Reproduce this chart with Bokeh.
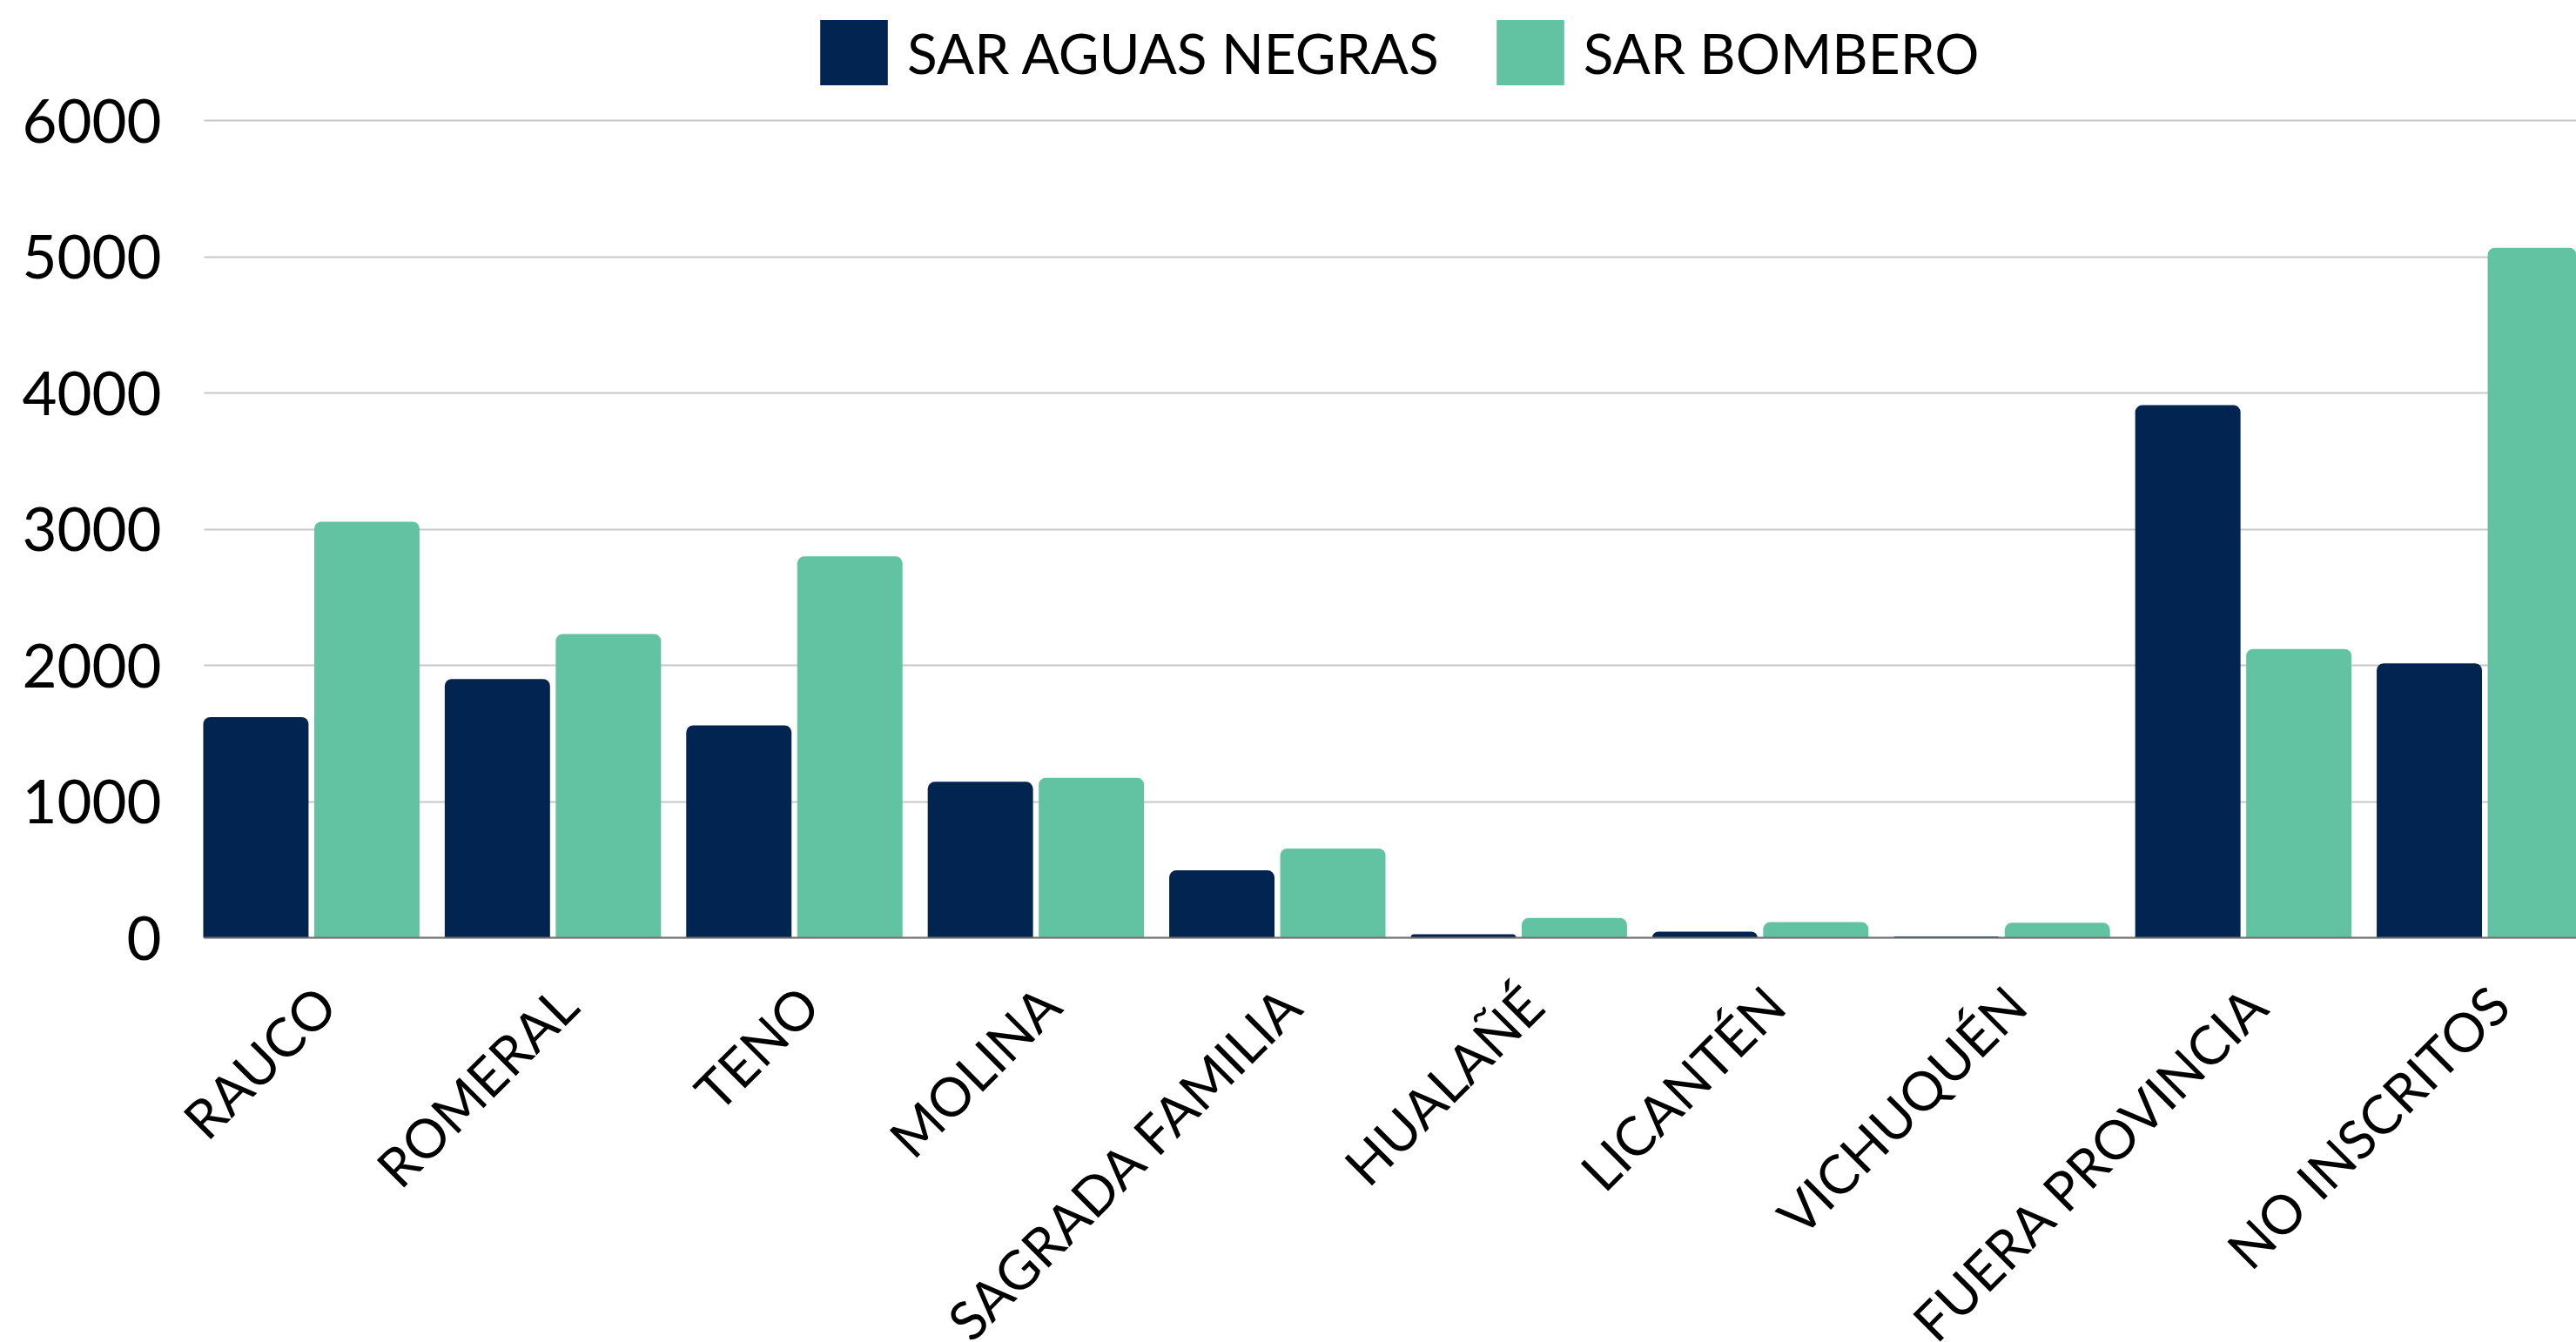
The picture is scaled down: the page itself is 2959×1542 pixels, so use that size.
import math
from bokeh.plotting import figure
from bokeh.models import (ColumnDataSource, Range1d, FixedTicker, Legend, LegendItem, BoxAnnotation)
from bokeh.transform import dodge
from bokeh.embed import file_html
from bokeh.resources import INLINE

categories = ["RAUCO", "ROMERAL", "TENO", "MOLINA", "SAGRADA FAMILIA",
              "HUALAÑÉ", "LICANTÉN", "VICHUQUÉN", "FUERA PROVINCIA", "NO INSCRITOS"]
aguas_negras = [1620, 1900, 1560, 1145, 495, 25, 45, 10, 3910, 2015]
bombero = [3055, 2230, 2800, 1175, 655, 145, 115, 110, 2120, 5065]
series_names = ["SAR AGUAS NEGRAS", "SAR BOMBERO"]
y_ticks = [0, 1000, 2000, 3000, 4000, 5000, 6000]

DARK = "#012451"
GREEN = "#62C3A2"
FONT = "Lato"

X_START, X_END = -0.6463, 9.3213    # frame range (a little room on the left for the labels)
PLOT_LEFT = -0.5021                 # where gridlines and baseline begin

src = ColumnDataSource(dict(x=list(range(len(categories))), a=aguas_negras, b=bombero))

# the frame runs down to the bottom edge; the x axis is pinned at y = 0
p = figure(width=2959, height=1542, output_backend="svg", toolbar_location=None,
           title=None, x_range=Range1d(X_START, X_END), y_range=Range1d(-2971, 6882))
p.min_border_left = 194
p.min_border_right = 0
p.min_border_top = 0
p.min_border_bottom = 0
p.outline_line_color = None
p.background_fill_color = "white"
p.border_fill_color = "white"

shift = -0.058   # bar groups sit slightly left of the label anchor
w = 0.436
off = 0.2298
r1 = p.vbar(x=dodge("x", shift - off, range=p.x_range), top="a", width=w, source=src,
            fill_color=DARK, line_color=None, border_radius=(8, 8, 0, 0))
r2 = p.vbar(x=dodge("x", shift + off, range=p.x_range), top="b", width=w, source=src,
            fill_color=GREEN, line_color=None, border_radius=(8, 8, 0, 0))

# axes
p.xaxis.fixed_location = 0
p.xaxis.bounds = (PLOT_LEFT, X_END)
p.xaxis.ticker = FixedTicker(ticks=list(range(len(categories))))
p.xaxis.major_label_overrides = {i: c for i, c in enumerate(categories)}
p.xaxis.major_label_orientation = math.pi / 4
p.xaxis.major_label_text_font = FONT
p.xaxis.major_label_text_font_size = "62px"
p.xaxis.major_label_text_color = "#000000"
p.xaxis.major_label_standoff = 60
p.xaxis.major_tick_line_color = None
p.xaxis.minor_tick_line_color = None
p.xaxis.axis_line_color = "#707070"
p.xaxis.axis_line_width = 2

p.yaxis.ticker = FixedTicker(ticks=y_ticks)
p.yaxis.major_label_text_font = FONT
p.yaxis.major_label_text_font_size = "69px"
p.yaxis.major_label_text_color = "#000000"
p.yaxis.major_label_standoff = 3
p.yaxis.major_tick_line_color = None
p.yaxis.minor_tick_line_color = None
p.yaxis.axis_line_color = None

p.xgrid.grid_line_color = None
p.ygrid.grid_line_color = "#c8c8c8"
p.ygrid.grid_line_width = 2
p.ygrid.ticker = FixedTicker(ticks=y_ticks)
p.ygrid.bounds = (0, 6000)
if "cross_bounds" in p.ygrid[0].properties():
    p.ygrid.cross_bounds = (PLOT_LEFT, X_END)
else:
    p.add_layout(BoxAnnotation(left=X_START, right=PLOT_LEFT, fill_color="white",
                               fill_alpha=1.0, line_color=None, level="underlay"))

legend = Legend(items=[LegendItem(label=series_names[0], renderers=[r1]),
                       LegendItem(label=series_names[1], renderers=[r2])],
                orientation="horizontal", location=(738, 1435),
                glyph_width=97, glyph_height=94, label_standoff=13, spacing=56,
                padding=0, margin=0, border_line_color=None, background_fill_alpha=0,
                label_text_font=FONT, label_text_font_size="64px", label_text_color="#000000")
p.add_layout(legend, "center")

open("out.html", "w").write(file_html(p, INLINE))
